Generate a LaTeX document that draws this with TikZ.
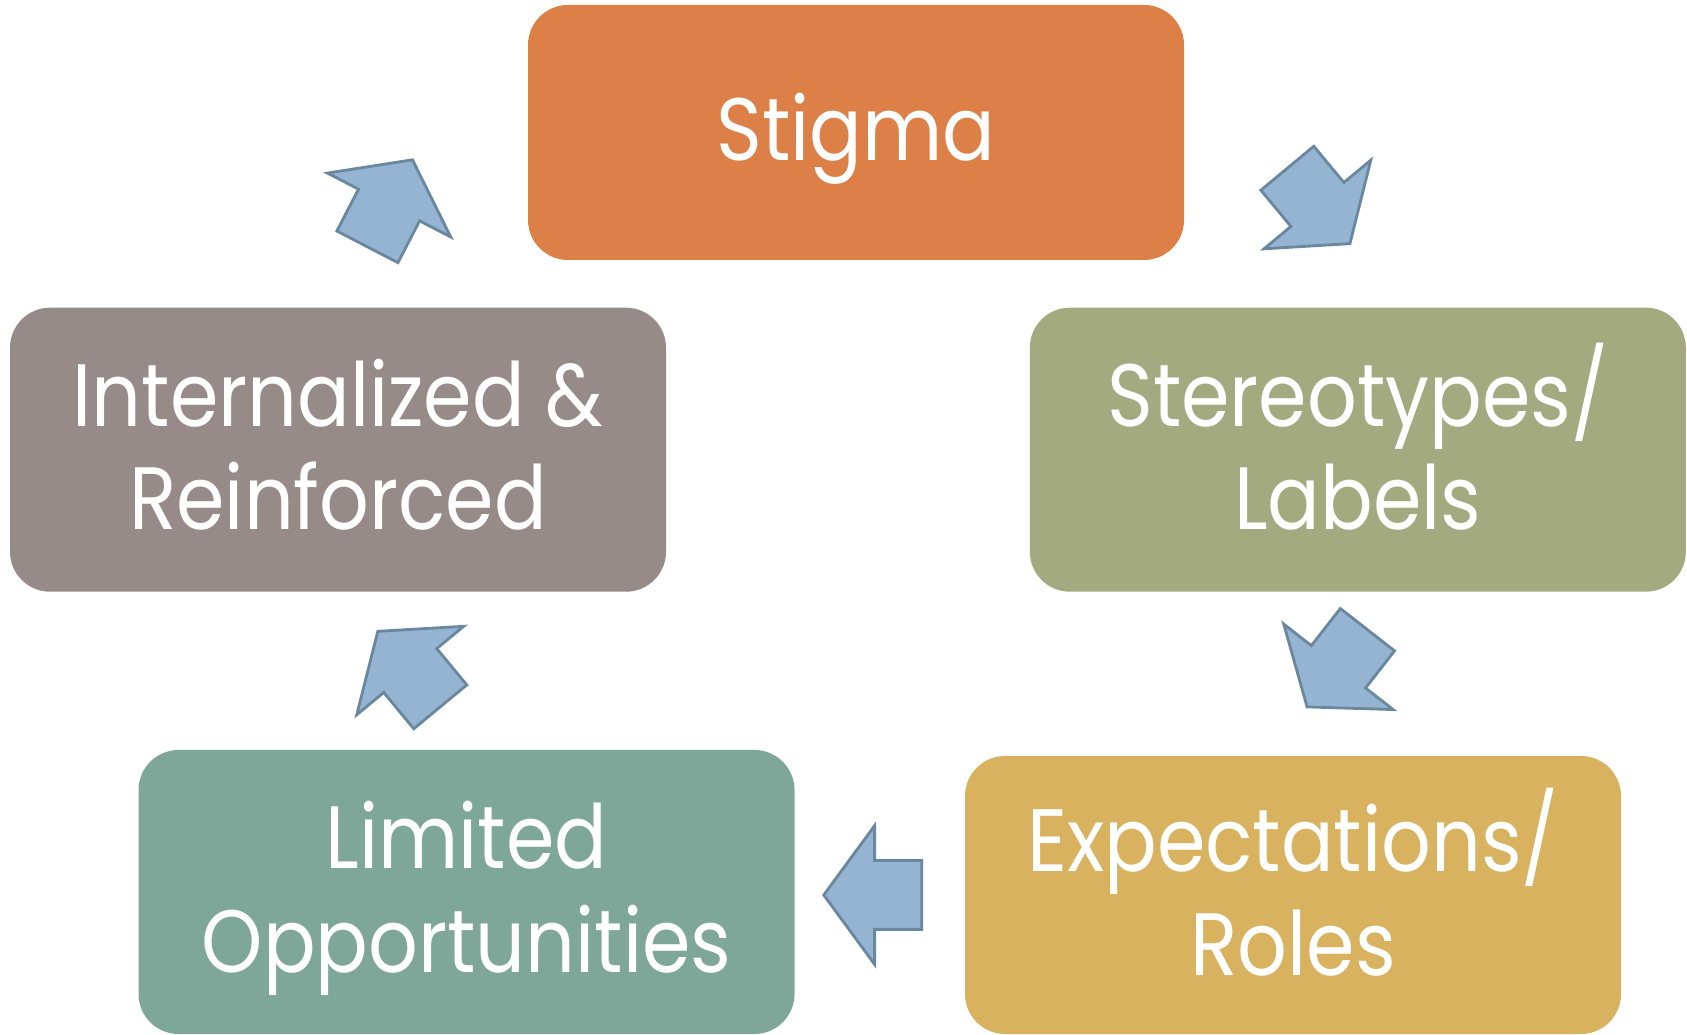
\documentclass[tikz,border=0pt]{standalone}
\usepackage{fontspec}
\setmainfont{Poppins}[FakeStretch=0.88]
\usepackage{tikz}
\usetikzlibrary{shapes.arrows}
\usetikzlibrary{positioning}
\definecolor{stigmacol}{RGB}{221,128,72}
\definecolor{interncol}{RGB}{150,139,136}
\definecolor{stereocol}{RGB}{164,170,128}
\definecolor{limitcol}{RGB}{126,167,154}
\definecolor{expectcol}{RGB}{216,178,94}
\definecolor{arrfill}{RGB}{148,180,210}
\definecolor{arrline}{RGB}{106,135,160}

\begin{document}
\begin{tikzpicture}[bx/.style={rounded corners=0.4cm, minimum width=6.56cm, minimum height=2.84cm, inner sep=0pt, align=center, text=white, text height=1.6cm, text depth=0pt, font=\fontsize{25.2}{29.4}\selectfont},
ba/.style={single arrow, draw=arrline, fill=arrfill, line width=0.8pt, minimum height=0.98cm, inner xsep=0pt, inner ysep=0.33cm, single arrow head extend=0.35cm, single arrow tip angle=107.5, anchor=tip}]
\useasboundingbox (0,0) rectangle (16.87,10.34);
\node (stigma) at (8.56,9.015) [bx, fill=stigmacol, minimum height=2.55cm, text height=0.57cm] {Stigma};
\node (intern) at (3.38,5.843) [bx, fill=interncol] {Internalized \&\\Reinforced};
\node (stereo) at (13.578,5.843) [bx, fill=stereocol] {Stereotypes/\\Labels};
\node (limited) at (4.665,1.42) [bx, fill=limitcol] {Limited\\Opportunities};
\node (expect) at (12.93,1.39) [bx, fill=expectcol, minimum height=2.78cm] {Expectations/\\Roles};
% block arrows, placed by their tips
\foreach \n/\x/\y/\a in {a1/13.51/7.89/-50.3, a2/13.06/3.257/-128, a3/8.22/1.39/180, a4/3.767/4.04/129.6, a5/4.133/8.757/62.6} {
\node (\n) at (\x,\y) [ba, rotate=\a] {};
}
\end{tikzpicture}
\end{document}
